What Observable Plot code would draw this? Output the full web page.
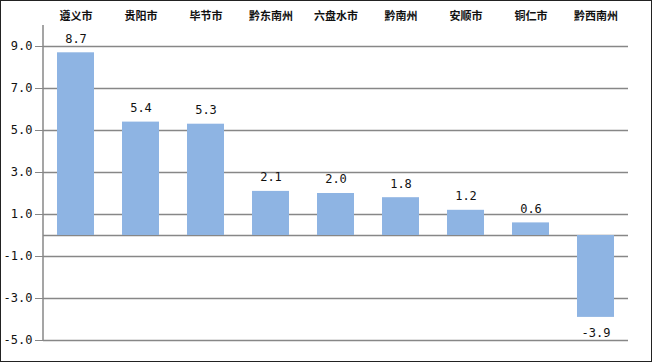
<!DOCTYPE html>
<html><head><meta charset="utf-8">
<script src="https://cdn.jsdelivr.net/npm/d3@7"></script>
<script src="https://cdn.jsdelivr.net/npm/@observablehq/plot@0.6"></script>
<style>
html,body{margin:0;padding:0;background:#fff;}
#chart svg{outline:1px solid #222;outline-offset:-1px;display:block;}
</style></head>
<body><div id="chart"></div>
<script>
const categories = ["遵义市","贵阳市","毕节市","黔东南州","六盘水市","黔南州","安顺市","铜仁市","黔西南州"];
const values = [8.7, 5.4, 5.3, 2.1, 2.0, 1.8, 1.2, 0.6, -3.9];
const yTicks = [9, 7, 5, 3, 1, -1, -3, -5];

const data = categories.map((c, i) => ({cat: c, value: values[i]}));
const fmt = v => d3.format(".1f")(v).replace("−", "-");
const mono = "'DejaVu Sans Mono', monospace";
const grid = "#878787";

const plot = Plot.plot({
  width: 652, height: 362,
  marginLeft: 43, marginRight: 24, marginTop: 25, marginBottom: 22,
  style: {background: "#fff", overflow: "visible"},
  x: {domain: categories, paddingInner: 0.43, paddingOuter: 0.215, label: null},
  y: {domain: [-5, 10], label: null},
  marks: [
    Plot.ruleY(yTicks, {stroke: grid, strokeWidth: 1.5}),
    Plot.ruleY([0], {stroke: grid, strokeWidth: 1.5}),
    Plot.barY(data, {x: "cat", y: "value", fill: "#8EB4E3"}),
    Plot.text(data.filter(d => d.value >= 0), {x: "cat", y: "value", text: d => fmt(d.value), dy: -14, fontFamily: mono, fontSize: 12, fill: "#111"}),
    Plot.text(data.filter(d => d.value < 0), {x: "cat", y: "value", text: d => fmt(d.value), dy: 16, fontFamily: mono, fontSize: 12, fill: "#111"}),
    Plot.axisY({ticks: yTicks, tickFormat: fmt, tickSize: 8, tickPadding: 3, stroke: grid, fontFamily: mono, fontSize: 12, fill: "#111"}),
    Plot.axisX({anchor: "top", tickSize: 0, tickPadding: 6, fontFamily: "'Noto Sans CJK SC', sans-serif", fontWeight: "bold", fontSize: 11, fill: "#111"})
  ]
});
// vertical axis line at the left edge of the plot area
const ys = plot.scale("y").range;
d3.select(plot).append("line")
  .attr("x1", 43).attr("x2", 43)
  .attr("y1", Math.min(...ys)).attr("y2", Math.max(...ys))
  .attr("stroke", grid).attr("stroke-width", 1.5);
document.getElementById("chart").append(plot);
</script></body></html>
